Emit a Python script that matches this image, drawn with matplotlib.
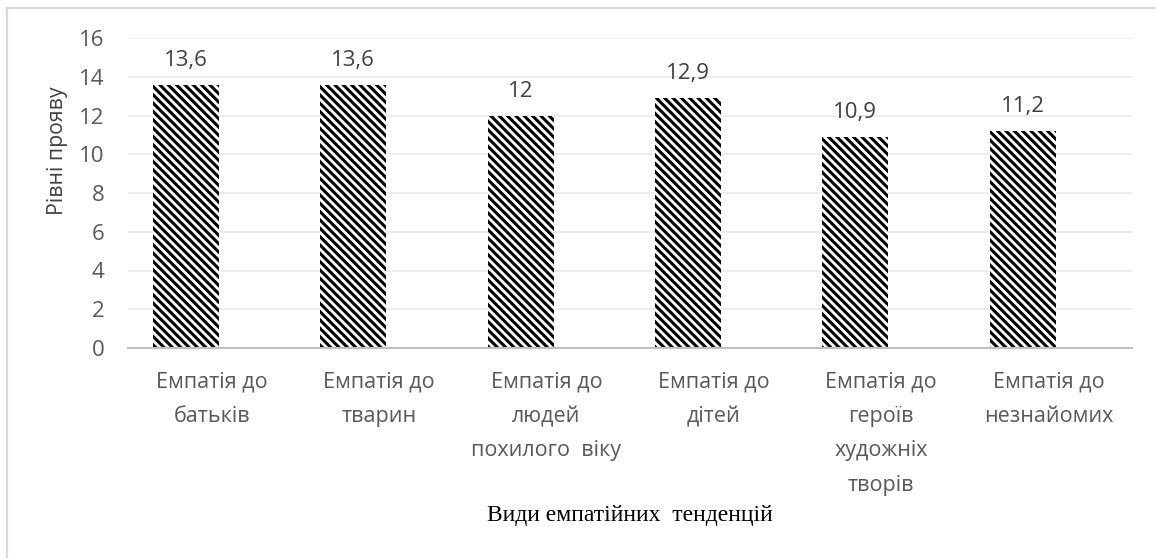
import matplotlib
matplotlib.use("Agg")
import matplotlib.pyplot as plt
from matplotlib.lines import Line2D
import numpy as np

categories = ["Емпатія до\nбатьків", "Емпатія до\nтварин", "Емпатія до\nлюдей\nпохилого  віку",
              "Емпатія до\nдітей", "Емпатія до\nгероїв\nхудожніх\nтворів", "Емпатія до\nнезнайомих"]
values = [13.6, 13.6, 12.0, 12.9, 10.9, 11.2]
value_labels = ["13,6", "13,6", "12", "12,9", "10,9", "11,2"]
yticks = [0, 2, 4, 6, 8, 10, 12, 14, 16]
xlabel = "Види емпатійних  тенденцій"
ylabel = "Рівні прояву"

plt.rcParams['hatch.linewidth'] = 2.2
plt.rcParams['hatch.color'] = 'black'
sans = ['Open Sans', 'DejaVu Sans']

W, H = 1156, 558
fig = plt.figure(figsize=(W/100, H/100), dpi=100)
ax = fig.add_axes([128/W, 1-348/H, (1132-128)/W, (348-38)/H])

x = np.arange(len(categories))
offset = -0.154
bars = ax.bar(x + offset, values, width=0.395, color='white', edgecolor='black',
              linewidth=0, hatch='\\\\\\\\', zorder=2)

for xi, v, lab in zip(x, values, value_labels):
    ax.annotate(lab, (xi + offset, v), xytext=(0, 17.5), textcoords='offset points',
                ha='center', va='center', fontsize=16, color='#404040', family=sans)

ax.set_xlim(-0.5, len(categories) - 0.5)
ax.set_ylim(0, 16)
ax.set_yticks(yticks)
ax.set_yticklabels([str(t) for t in yticks], fontsize=16, color='#595959', family=sans)
ax.set_xticks(x)
ax.set_xticklabels(categories, fontsize=15.5, color='#595959', family=sans, linespacing=1.84, va='top')
ax.tick_params(axis='both', length=0)
ax.tick_params(axis='y', pad=17)
ax.tick_params(axis='x', pad=17)

ax.grid(axis='y', color='#eaeaea', linewidth=1.2, zorder=0)
ax.set_axisbelow(True)
for s in ['top', 'right', 'left']:
    ax.spines[s].set_visible(False)
ax.spines['bottom'].set_color('#bfbfbf')
ax.spines['bottom'].set_linewidth(1.5)
ax.spines['bottom'].set_zorder(3)

fig.text(630/W, 1-515/H, xlabel, ha='center', va='center', fontsize=17, family=['Liberation Serif', 'DejaVu Serif'], color='black')
fig.text(58/W, 1-151/H, ylabel, ha='center', va='center', rotation=90, fontsize=15.3, color='#404040', family=sans)

# chart border (light gray)
fig.add_artist(Line2D([6.5/W, 6.5/W], [0, 1-7.5/H], color='#d9d9d9', linewidth=1.6, transform=fig.transFigure))
fig.add_artist(Line2D([6.5/W, 1], [1-7.5/H, 1-7.5/H], color='#d9d9d9', linewidth=1.6, transform=fig.transFigure))

fig.savefig("out.png", dpi=100)
